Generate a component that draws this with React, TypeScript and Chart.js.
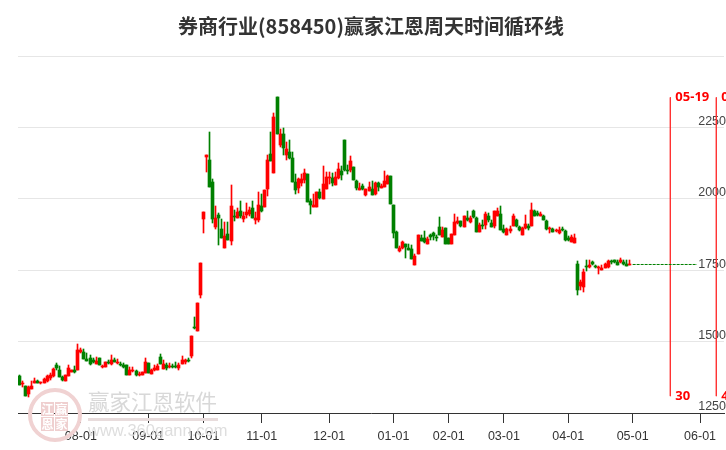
import React, { useEffect, useRef } from "react";
import { Chart, registerables } from "chart.js";

Chart.register(...registerables);

const titleText = "券商行业(858450)赢家江恩周天时间循环线";

const opens = [
  1379,1351,1344,1315,1333,1356,1362,1354,1356,1363,
  1371,1379,1417,1402,1376,1363,1380,1394,1399,1402,
  1462,1464,1438,1444,1435,1422,1442,1411,1412,1428,
  1421,1435,1424,1421,1417,1417,1384,1397,1396,1383,
  1384,1391,1424,1387,1399,1401,1446,1404,1418,1410,
  1415,1415,1408,1422,1428,1436,1449,1551,1538,1663,
  1929,2146,2135,2058,1901,1942,1896,1828,1878,1852,
  1939,1933,1959,1929,1942,1947,1967,1926,1926,1976,
  1971,2034,2158,2090,2355,2188,2228,2153,2165,2144,
  2060,2039,2054,2066,2086,1994,1971,1971,2025,2000,
  2034,2073,2072,2048,2074,2096,2205,2100,2100,2110,
  2061,2031,2044,2012,2027,2036,2016,2057,2039,2041,
  2053,2079,1977,1883,1816,1829,1840,1827,1823,1769,
  1807,1862,1864,1842,1875,1882,1865,1900,1866,1898,
  1861,1842,1873,1914,1921,1901,1932,1919,1956,1932,
  1884,1908,1907,1941,1914,1904,1940,1946,1896,1873,
  1887,1905,1927,1900,1873,1897,1906,1905,1959,1950,
  1941,1941,1924,1893,1896,1886,1880,1893,1886,1862,
  1850,1845,1771,1694,1692,1766,1762,1778,1766,1757,
  1750,1756,1762,1783,1785,1780,1778,1780,1773,1768,
];

const closes = [
  1349,1356,1309,1342,1344,1361,1356,1358,1369,1379,
  1384,1405,1407,1377,1364,1383,1407,1400,1393,1472,
  1470,1440,1433,1421,1428,1432,1419,1415,1430,1424,
  1437,1430,1430,1417,1410,1384,1400,1401,1383,1387,
  1393,1428,1391,1402,1407,1415,1422,1421,1407,1415,
  1412,1412,1418,1435,1435,1432,1519,1546,1636,1774,
  1953,2152,2041,1929,1932,1933,1863,1871,1856,1974,
  1935,1953,1939,1939,1955,1960,1932,1932,1980,1957,
  2030,2135,2132,2288,2228,2228,2179,2173,2143,2059,
  2031,2068,2070,2091,1989,1978,1977,2023,2002,2053,
  2077,2077,2054,2077,2105,2082,2100,2097,2131,2066,
  2037,2037,2036,2033,2043,2013,2057,2041,2045,2061,
  2080,1982,1880,1828,1829,1849,1831,1821,1789,1801,
  1872,1852,1849,1858,1865,1869,1863,1873,1892,1842,
  1843,1876,1918,1921,1904,1939,1926,1934,1936,1884,
  1910,1904,1947,1926,1903,1956,1959,1891,1884,1896,
  1896,1940,1904,1892,1899,1913,1897,1962,1940,1943,
  1947,1926,1893,1899,1884,1890,1890,1890,1856,1854,
  1865,1861,1680,1709,1742,1762,1767,1770,1762,1762,
  1759,1771,1783,1779,1779,1769,1785,1771,1766,1771,
];

const highs = [
  1383,1363,1345,1344,1362,1371,1365,1359,1371,1383,
  1389,1407,1426,1414,1379,1384,1417,1402,1414,1491,
  1479,1475,1461,1453,1441,1447,1444,1418,1430,1435,
  1453,1443,1440,1429,1424,1418,1412,1411,1399,1393,
  1394,1443,1425,1403,1417,1420,1456,1435,1426,1426,
  1421,1430,1424,1451,1440,1444,1519,1586,1636,1774,
  1954,2153,2233,2071,1976,1949,1931,1918,1918,2047,
  1962,1967,1991,1955,1984,1971,1991,1955,2023,2016,
  2031,2152,2233,2302,2355,2243,2248,2198,2205,2163,
  2088,2074,2088,2105,2087,2001,2016,2024,2036,2114,
  2094,2094,2091,2094,2126,2114,2206,2117,2149,2111,
  2067,2057,2051,2036,2058,2061,2058,2058,2053,2096,
  2083,2080,1978,1886,1834,1853,1840,1841,1837,1805,
  1873,1872,1886,1866,1878,1884,1873,1935,1901,1899,
  1862,1877,1946,1936,1922,1940,1956,1939,1961,1936,
  1917,1925,1953,1952,1925,1957,1969,1974,1910,1899,
  1904,1947,1928,1904,1901,1942,1913,1987,1960,1956,
  1954,1942,1927,1903,1897,1896,1901,1901,1890,1870,
  1872,1876,1783,1715,1753,1785,1785,1783,1767,1763,
  1767,1776,1785,1787,1787,1785,1794,1785,1787,1787,
];

const lows = [
  1348,1342,1308,1307,1333,1354,1354,1353,1356,1359,
  1365,1377,1400,1375,1362,1363,1379,1393,1391,1400,
  1461,1438,1431,1418,1426,1421,1418,1408,1411,1421,
  1418,1428,1421,1414,1407,1383,1383,1393,1379,1379,
  1383,1389,1390,1386,1398,1400,1420,1403,1400,1407,
  1407,1407,1400,1421,1421,1428,1442,1544,1538,1652,
  1880,2094,2041,1915,1893,1837,1863,1828,1856,1837,
  1922,1932,1934,1918,1934,1941,1932,1912,1918,1955,
  1970,2009,2132,2090,2226,2181,2152,2136,2140,2059,
  2017,2020,2045,2054,1988,1946,1970,1970,2001,2000,
  2034,2051,2045,2047,2069,2066,2099,2086,2095,2065,
  2031,2030,2031,2009,2027,2012,2015,2026,2039,2041,
  2053,1981,1863,1827,1814,1824,1793,1819,1789,1767,
  1806,1852,1844,1842,1855,1857,1852,1873,1866,1842,
  1842,1842,1873,1912,1903,1901,1922,1915,1934,1884,
  1883,1896,1894,1920,1901,1899,1939,1890,1880,1872,
  1882,1904,1903,1886,1873,1896,1890,1904,1939,1940,
  1939,1925,1890,1880,1884,1883,1876,1886,1851,1851,
  1849,1845,1662,1682,1674,1748,1757,1767,1757,1736,
  1750,1756,1759,1773,1776,1767,1776,1767,1764,1767,
];

const monthIndex = [20, 42, 60, 79, 101, 122, 140, 158, 179, 200, 222];
const monthLabels = ["08-01", "09-01", "10-01", "11-01", "12-01", "01-01", "02-01", "03-01", "04-01", "05-01", "06-01"];

const yTickHidden = [2500];

const flatIndex = [200, 221];
const flatValues = [1770, 1770];

const cycleIndex = [212.3, 227.3];
const cycleTop = 2355;
const cycleBottom = 1309;
const cycleDates = ["05-19", "06-03"];
const cycleCounts = ["30", "45"];

const RED = "#ff0000";
const GREEN = "#008000";

const snapBars = {
  id: "snapBars",
  afterDatasetsUpdate(chart: any) {
    chart.data.datasets.forEach((ds: any, i: number) => {
      if (ds.type === "line") return;
      chart.getDatasetMeta(i).data.forEach((el: any) => {
        el.x = Math.floor(el.x) + 0.5;
        const a = Math.round(el.y);
        let b = Math.round(el.base);
        if (a === b) b = a + 1;
        el.y = a;
        el.base = b;
      });
    });
  },
};

const watermark = {
  id: "watermark",
  beforeDatasetsDraw(chart: any) {
    const c = chart.ctx;
    c.save();
    c.strokeStyle = "#f0d2d2";
    c.lineWidth = 4;
    c.beginPath();
    c.arc(55, 415, 25, 0, Math.PI * 2);
    c.stroke();
    c.fillStyle = "#efcfcf";
    const cells: [number, number, string][] = [
      [41, 402, "江"],
      [55, 402, "赢"],
      [41, 417, "恩"],
      [55, 417, "家"],
    ];
    c.textAlign = "center";
    c.textBaseline = "middle";
    c.font = 'bold 12px "Noto Sans CJK SC"';
    cells.forEach(([x, y]) => c.fillRect(x, y, 13, 14));
    c.fillStyle = "#ffffff";
    cells.forEach(([x, y, t]) => c.fillText(t, x + 6.5, y + 7));
    c.fillStyle = "#d8d8d8";
    c.textAlign = "left";
    c.font = '21.5px "Noto Sans CJK SC"';
    c.fillText("赢家江恩软件", 88, 402);
    c.fillStyle = "#e8dcdc";
    c.fillRect(88, 418, 130, 3);
    c.fillStyle = "#dedede";
    c.font = '16.5px "Liberation Sans"';
    c.fillText("www.360gann.com", 88, 431);
    c.restore();
  },
};

const cycleLabels = {
  id: "cycleLabels",
  afterDatasetsDraw(chart: any) {
    const c = chart.ctx;
    const xs = chart.scales.x;
    const ys = chart.scales.y;
    c.save();
    c.fillStyle = "#ff0000";
    c.font = 'bold 13px "Noto Sans"';
    c.textAlign = "left";
    c.textBaseline = "middle";
    cycleIndex.forEach((idx, i) => {
      const x = xs.getPixelForValue(idx) + 5;
      c.fillText(cycleDates[i], x, ys.getPixelForValue(cycleTop));
      c.fillText(cycleCounts[i], x, ys.getPixelForValue(cycleBottom));
    });
    c.restore();
  },
};

export default function App() {
  const ref = useRef<HTMLCanvasElement | null>(null);

  useEffect(() => {
    if (!ref.current) return;
    const idx = opens.map((_, i) => i);
    const candleColors = opens.map((o, i) => (closes[i] >= o ? RED : GREEN));
    const chart = new Chart(ref.current, {
      type: "bar",
      data: {
        datasets: [
          {
            label: "影线",
            data: idx.map((i) => ({ x: i, y: [lows[i], highs[i]] })),
            backgroundColor: candleColors,
            barThickness: 1,
            grouped: false,
            borderWidth: 0,
          },
          {
            label: "实体",
            data: idx.map((i) => ({ x: i, y: [opens[i], closes[i]] })),
            backgroundColor: candleColors,
            barThickness: 3,
            grouped: false,
            borderWidth: 0,
          },
          {
            type: "line",
            label: "平盘",
            data: flatIndex.map((x, i) => ({ x, y: flatValues[i] })),
            borderColor: GREEN,
            borderWidth: 1,
            borderDash: [3, 1],
            pointRadius: 0,
          },
          ...cycleIndex.map((x) => ({
            type: "line",
            label: "周期",
            data: [
              { x, y: cycleTop },
              { x, y: cycleBottom },
            ],
            borderColor: "#ff3333",
            borderWidth: 1,
            pointRadius: 0,
          })),
        ] as any,
      },
      options: {
        responsive: false,
        animation: false,
        devicePixelRatio: 1,
        layout: { padding: { left: 18, right: 2, top: 0, bottom: 0 } },
        plugins: {
          legend: { display: false },
          tooltip: { enabled: false },
          title: {
            display: true,
            text: titleText,
            color: "#333333",
            font: { family: '"Noto Sans CJK SC"', size: 20, weight: "bold", lineHeight: 1.2 },
            padding: { top: 14, bottom: 18 },
          },
        },
        scales: {
          x: {
            type: "linear",
            min: -0.5,
            max: 229.8,
            offset: false,
            afterBuildTicks: (axis: any) => {
              axis.ticks = monthIndex.map((value) => ({ value }));
            },
            afterFit: (axis: any) => {
              axis.height = 37;
            },
            grid: { offset: false, drawOnChartArea: false, tickLength: 10, color: "#333333", tickColor: "#333333" },
            border: { color: "#333333", width: 1 },
            ticks: {
              autoSkip: false,
              maxRotation: 0,
              padding: 6,
              color: "#333333",
              font: { family: '"Liberation Sans"', size: 12.5 },
              callback: (v: any) => monthLabels[monthIndex.indexOf(v)] ?? "",
            },
          },
          y: {
            position: "right",
            min: 1250,
            max: 2500,
            afterFit: (axis: any) => {
              axis.width = 0;
            },
            grid: { color: "#e6e6e6", drawTicks: false, lineWidth: 1 },
            border: { display: false },
            ticks: {
              stepSize: 250,
              mirror: true,
              padding: 2,
              labelOffset: -6,
              color: "#444444",
              font: { family: '"Liberation Sans"', size: 12.5 },
              callback: (v: any) => (yTickHidden.includes(v) ? "" : String(v)),
            },
          },
        },
      } as any,
      plugins: [snapBars, watermark, cycleLabels],
    });
    return () => chart.destroy();
  }, []);

  return (
    <div style={{ position: "absolute", left: 0, top: 0, width: 726, height: 450 }}>
      <canvas ref={ref} width={726} height={450} style={{ display: "block" }} />
    </div>
  );
}
